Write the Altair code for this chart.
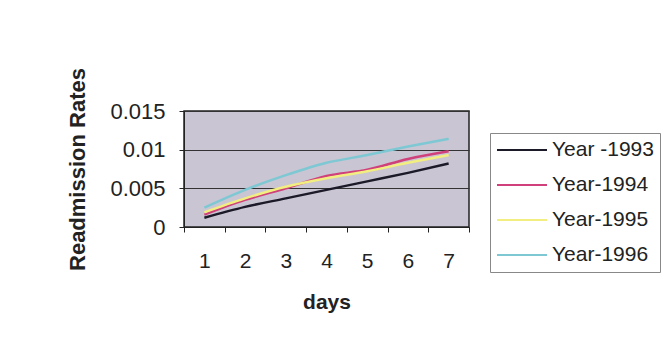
import altair as alt
import pandas as pd

days = [1, 2, 3, 4, 5, 6, 7]
series_names = ["Year -1993", "Year-1994", "Year-1995", "Year-1996"]
y1993 = [0.0012, 0.0026, 0.0037, 0.0048, 0.0059, 0.0070, 0.0082]
y1994 = [0.0016, 0.0035, 0.0050, 0.0066, 0.0074, 0.0088, 0.0098]
y1995 = [0.0019, 0.0037, 0.0052, 0.0063, 0.0072, 0.0083, 0.0093]
y1996 = [0.0025, 0.0048, 0.0067, 0.0083, 0.0093, 0.0104, 0.0114]
colors = ["#1c1a28", "#d0407a", "#f2ee80", "#7ec8d4"]

rows = []
for name, vals in zip(series_names, [y1993, y1994, y1995, y1996]):
    for d, v in zip(days, vals):
        rows.append({"day": d, "rate": v, "series": name})
df = pd.DataFrame(rows)

FONT = "Liberation Sans"

chart = alt.Chart(df).mark_line(strokeWidth=2.5, interpolate="monotone").encode(
    x=alt.X("day:O", title="days",
            scale=alt.Scale(paddingInner=0, paddingOuter=0),
            axis=alt.Axis(labelAngle=0, labelFontSize=21, labelFont=FONT, labelColor="#222",
                          titleFont=FONT, titleFontSize=21, titleFontWeight="bold", titleColor="#222",
                          titlePadding=20, labelPadding=18, tickBand="extent", tickSize=5,
                          domainColor="#222", tickColor="#222", grid=False)),
    y=alt.Y("rate:Q", title="Readmission Rates",
            scale=alt.Scale(domain=[0, 0.015], nice=False),
            axis=alt.Axis(values=[0, 0.005, 0.01, 0.015], format=".3~f",
                          labelFontSize=22, labelFont=FONT, labelColor="#222",
                          titleFont=FONT, titleFontSize=22, titleFontWeight="bold", titleColor="#222",
                          titlePadding=20, labelPadding=14, tickSize=5,
                          grid=True, gridColor="#333", gridWidth=1,
                          domainColor="#222", tickColor="#222")),
    color=alt.Color("series:N", scale=alt.Scale(domain=series_names, range=colors),
                    legend=alt.Legend(title=None, orient="none", legendX=306, legendY=22,
                                      symbolType="stroke", symbolSize=2500, symbolStrokeWidth=2,
                                      labelFontSize=21, labelFont=FONT, labelColor="#222",
                                      rowPadding=13, clipHeight=22, labelOffset=4,
                                      strokeColor="#888", padding=6)),
).properties(width=285, height=116,
             padding={"left": 184, "top": 111, "right": 198, "bottom": 118},
             autosize=alt.AutoSizeParams(type="none"),
             background="white"
).configure_view(fill="#c9c5d3", stroke="#222", strokeWidth=1.5)

chart.save("out.html", embed_options={"renderer": "svg", "actions": False})
